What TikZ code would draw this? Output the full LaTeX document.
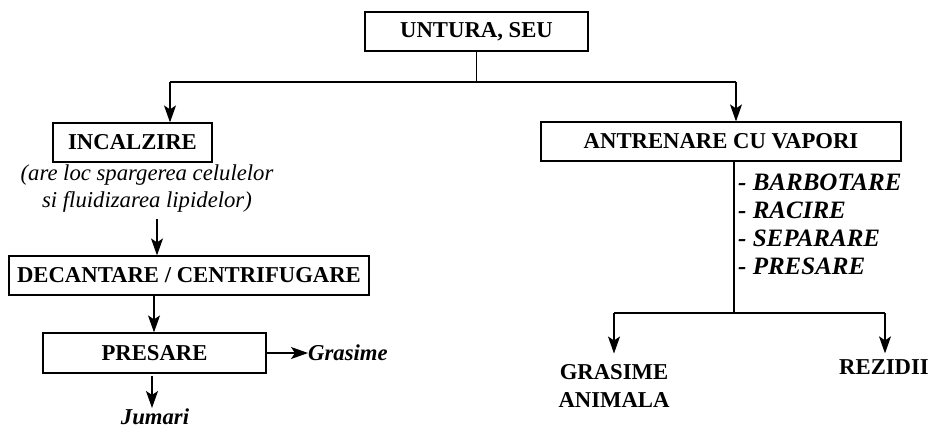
\documentclass[tikz,border=0pt]{standalone}
\usepackage{fontspec}
\setmainfont{Liberation Serif}
\usetikzlibrary{arrows.meta}
\begin{document}
\begin{tikzpicture}[x=1pt,y=-1pt,
  box/.style={draw, line width=1.2pt, inner sep=0pt, font=\bfseries\fontsize{22.7}{27}\selectfont},
  boldtxt/.style={inner sep=0pt, font=\bfseries\fontsize{22.7}{28}\selectfont},
  bitxt/.style={inner sep=0pt, font=\bfseries\itshape\fontsize{22.7}{28}\selectfont},
  ittxt/.style={inner sep=0pt, font=\itshape\fontsize{22.7}{27}\selectfont},
  arr/.style={line width=1.2pt, -{Stealth[length=17pt,width=12pt,inset=4pt]}},
  ln/.style={line width=1.2pt}]
\useasboundingbox (0,0) rectangle (935,429);
% nodes
\node[box, minimum width=223pt, minimum height=39pt] (unt) at (476.5,31.5) {UNTURA, SEU};
\node[box, minimum width=159pt, minimum height=39pt] (inc) at (132.5,142.5) {INCALZIRE};
\node[ittxt, align=center] (note) at (147,189) {(are loc spargerea celulelor\\si fluidizarea lipidelor)};
\node[box, minimum width=360pt, minimum height=39pt] (dec) at (189,275.5) {DECANTARE / CENTRIFUGARE};
\node[box, minimum width=223pt, minimum height=40pt] (pres) at (154.5,353) {PRESARE};
\node[bitxt, anchor=west] (gras) at (308,353) {Grasime};
\node[bitxt, anchor=north] (jum) at (155,409) {Jumari};
\node[box, minimum width=360pt, minimum height=39pt] (ant) at (721,141.5) {ANTRENARE CU VAPORI};
\node[inner sep=0pt, anchor=north west, align=left, font=\bfseries\itshape\fontsize{25}{28}\selectfont] (ops) at (738,173.5) {- BARBOTARE\\- RACIRE\\- SEPARARE\\- PRESARE};
\node[boldtxt, align=center, anchor=north] (ga) at (614,364.5) {GRASIME\\ANIMALA};
\node[boldtxt] (rez) at (884,367) {REZIDII};
% connectors
\coordinate (jL) at (170,82);
\coordinate (jR) at (736,82);
\draw[ln] (unt.south) -- (unt.south |- jL);
\draw[ln] (jL) -- (jR);
\draw[arr] (jL) -- (inc.north -| jL);
\draw[arr] (jR) -- (ant.north -| jR);
\coordinate (xn) at (157,0);
\draw[arr, shorten <=6pt] (note.south -| xn) -- (dec.north -| xn);
\coordinate (xp) at (154,0);
\draw[arr] (dec.south -| xp) -- (pres.north -| xp);
\draw[arr] (pres.east) -- (gras.west);
\coordinate (xj) at (152,0);
\draw[arr, shorten <=2pt, shorten >=1pt] (pres.south -| xj) -- (jum.north -| xj);
\coordinate (xa) at (734,0);
\coordinate (hR) at (734,313);
\draw[ln] (ant.south -| xa) -- (hR);
\coordinate (bL) at (614,313);
\coordinate (bR) at (885,313);
\draw[ln] (bL) -- (bR);
\draw[arr, shorten >=11pt] (bL) -- (ga.north -| bL);
\draw[arr, shorten >=6pt] (bR) -- (rez.north -| bR);
\end{tikzpicture}
\end{document}
